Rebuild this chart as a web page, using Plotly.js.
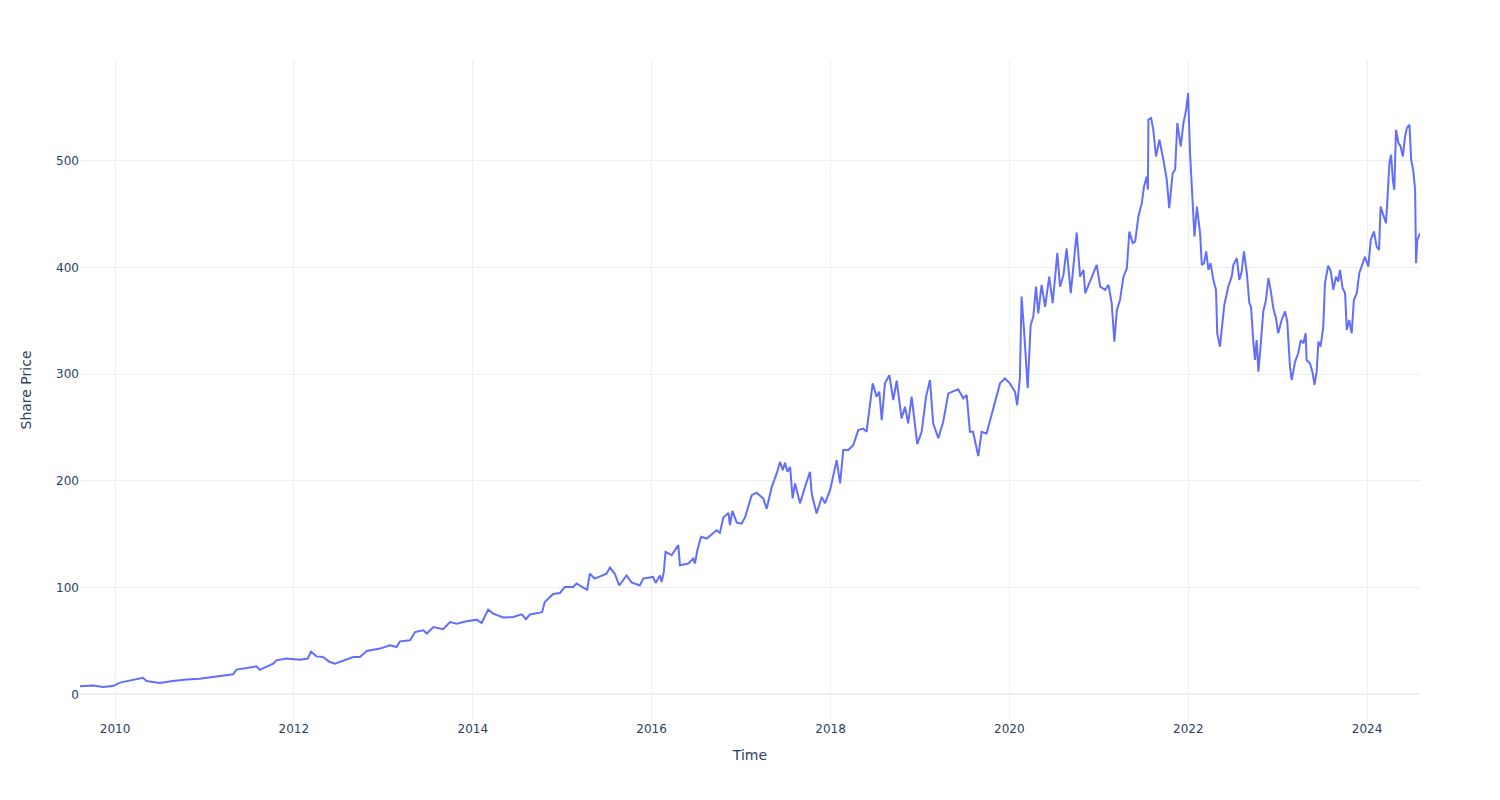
<!DOCTYPE html>
<html>
<head>
<meta charset="utf-8">
<script src="https://cdn.plot.ly/plotly-3.0.1.min.js"></script>
<style>html,body{margin:0;padding:0;background:#fff;}</style>
</head>
<body>
<div id="chart" style="width:1500px;height:800px;"></div>
<script>
// Time as decimal years
const timeYears = [
2009.609,2009.757,2009.866,2009.978,2010.056,2010.168,2010.313,2010.354,2010.503,2010.649,
2010.802,2010.950,2011.096,2011.249,2011.323,2011.361,2011.473,2011.585,2011.621,2011.733,
2011.770,2011.808,2011.920,2012.069,2012.158,2012.192,2012.255,2012.326,2012.404,2012.460,
2012.553,2012.665,2012.740,2012.815,2012.963,2013.075,2013.150,2013.187,2013.299,2013.355,
2013.447,2013.485,2013.559,2013.671,2013.746,2013.821,2013.933,2014.045,2014.100,2014.174,
2014.230,2014.342,2014.454,2014.548,2014.596,2014.641,2014.752,2014.778,2014.808,2014.901,
2014.976,2015.032,2015.125,2015.163,2015.237,2015.281,2015.311,2015.367,2015.498,2015.535,
2015.591,2015.639,2015.722,2015.778,2015.871,2015.907,2016.019,2016.049,2016.094,2016.113,
2016.139,2016.158,2016.225,2016.299,2016.318,2016.411,2016.467,2016.486,2016.511,2016.553,
2016.616,2016.690,2016.728,2016.765,2016.802,2016.858,2016.877,2016.903,2016.952,2017.008,
2017.045,2017.120,2017.175,2017.249,2017.287,2017.343,2017.399,2017.436,2017.466,2017.492,
2017.518,2017.548,2017.578,2017.604,2017.660,2017.716,2017.771,2017.790,2017.846,2017.902,
2017.939,2017.995,2018.032,2018.070,2018.107,2018.144,2018.200,2018.256,2018.312,2018.367,
2018.405,2018.442,2018.473,2018.517,2018.546,2018.573,2018.610,2018.658,2018.703,2018.741,
2018.797,2018.834,2018.871,2018.909,2018.971,2019.020,2019.069,2019.113,2019.150,2019.206,
2019.262,2019.318,2019.374,2019.430,2019.486,2019.524,2019.561,2019.597,2019.653,2019.691,
2019.747,2019.784,2019.840,2019.896,2019.952,2020.008,2020.064,2020.089,2020.120,2020.139,
2020.164,2020.206,2020.239,2020.268,2020.298,2020.324,2020.362,2020.399,2020.447,2020.485,
2020.537,2020.567,2020.604,2020.642,2020.687,2020.724,2020.754,2020.791,2020.828,2020.847,
2020.902,2020.977,2021.014,2021.070,2021.107,2021.145,2021.174,2021.201,2021.238,2021.275,
2021.313,2021.342,2021.380,2021.406,2021.442,2021.480,2021.506,2021.536,2021.548,2021.554,
2021.585,2021.610,2021.640,2021.677,2021.722,2021.760,2021.789,2021.827,2021.853,2021.879,
2021.917,2021.946,2021.976,2021.998,2022.021,2022.051,2022.069,2022.096,2022.132,2022.151,
2022.177,2022.200,2022.225,2022.252,2022.281,2022.311,2022.326,2022.356,2022.375,2022.404,
2022.449,2022.487,2022.505,2022.543,2022.572,2022.599,2022.624,2022.655,2022.684,2022.703,
2022.728,2022.747,2022.766,2022.784,2022.811,2022.840,2022.870,2022.896,2022.923,2022.952,
2022.982,2023.008,2023.046,2023.083,2023.109,2023.139,2023.158,2023.195,2023.232,2023.258,
2023.288,2023.314,2023.326,2023.362,2023.393,2023.411,2023.437,2023.455,2023.482,2023.511,
2023.530,2023.567,2023.597,2023.623,2023.653,2023.679,2023.698,2023.728,2023.754,2023.773,
2023.802,2023.829,2023.854,2023.885,2023.914,2023.958,2023.977,2024.014,2024.041,2024.078,
2024.108,2024.134,2024.153,2024.182,2024.212,2024.227,2024.249,2024.268,2024.287,2024.305,
2024.324,2024.350,2024.377,2024.399,2024.425,2024.444,2024.473,2024.492,2024.518,2024.537,
2024.548,2024.562,2024.592
];

const sharePrice = [
7.5,8.4,6.9,7.8,11,13,15.6,12.5,10.6,12.5,
14,14.7,16.3,17.8,18.8,23.2,25,26.3,23,27.2,
28.8,31.9,33.5,32.5,33.5,40,35.6,35,30.3,28.8,
31.9,35,35,40.6,42.9,46,44.4,49.7,50.7,58.4,
60,57,63.1,61,67.8,66.3,68.5,70,66.9,79.5,
75.7,72,72.5,75,70.4,74.8,76.6,77.2,86.6,94,
95,100.7,100.7,103.9,100,98,113,108.5,113,118.8,
113,102,111.5,105,102,108.5,110,104.4,111.5,105.2,
114.7,133.5,130.4,139.8,121,122.6,127.3,122.6,135,147.6,
146,150.7,153.8,151.3,165.8,170,158.5,172,161,160,
166,186.7,189,183.6,174,194.5,207,218,210,217,
208.6,213,183.6,197.6,179,194.5,208.6,188,169.5,185,
179,191.4,203.8,219.5,197.7,229,229,233.6,247.6,249,
246,272.7,291.4,279,283.6,257,291.4,299,275.8,294,
258.6,269.5,254,279,234.5,246,279,294.5,254,240,
255.5,282,283.6,285.8,277.4,280.5,246,246,223.3,246,
244.5,257,274,291.4,296,291.4,283.6,271,296,372.7,
341.5,286.8,346,354,382,357,383.7,363,391.4,366.5,
413.5,382,393,418,376,410,432.7,391.4,397.7,376,
388,402.4,382,379,383.7,366.5,330.5,360,369.6,391.4,
399.3,433.7,422.8,424.4,447.8,460.3,476,485.3,473,538.5,
540,529,504,519.7,501,482,455.6,488.5,491.6,535.3,
513.4,535.3,547.8,563.5,507.2,454,429,457,432,402.4,
404,415,397.7,404,388.4,379,338.3,325.8,340,365,
382,391.4,402.4,408.7,388.4,396.2,415,394.6,366.5,363.3,
332,313.3,332,302.4,329,358.8,369.6,390,379,361.8,
352.4,338.3,350.8,358.8,349.2,307,294.5,311.8,319.6,332,
329,338.3,313.3,310,300.8,290,302.4,330.5,325.8,344.6,
385.3,401.8,396.2,379,391.4,386.8,397.7,380.6,376,341.5,
350.8,338.3,369.6,376,394.6,404,410,400.8,425.9,433.7,
419.6,416.5,457,449.3,441.5,463.4,497.8,505.6,482,472.8,
529,516.6,513.4,504,522.8,530.6,533.8,501,490,472.8,
404,425.9,432
];

function yearToDate(y) {
  const yr = Math.floor(y);
  const start = Date.UTC(yr, 0, 1);
  const end = Date.UTC(yr + 1, 0, 1);
  const t = start + (y - yr) * (end - start);
  return new Date(t).toISOString().slice(0, 10);
}
const dates = timeYears.map(yearToDate);

const trace = {
  x: dates,
  y: sharePrice,
  type: 'scatter',
  mode: 'lines',
  line: {color: '#636efa', width: 2},
  hoverinfo: 'x+y'
};

const layout = {
  width: 1500,
  height: 800,
  margin: {l: 80, r: 80, t: 60, b: 80},
  paper_bgcolor: '#ffffff',
  plot_bgcolor: '#ffffff',
  font: {family: '"DejaVu Sans", verdana, arial, sans-serif', size: 12, color: '#2a3f5f'},
  showlegend: false,
  xaxis: {
    title: {text: 'Time', font: {size: 14}, standoff: 15},
    type: 'date',
    gridcolor: '#EBF0F8',
    zerolinecolor: '#EBF0F8',
    showline: false,
    ticks: '',
    automargin: true
  },
  yaxis: {
    title: {text: 'Share Price', font: {size: 14}, standoff: 21},
    gridcolor: '#EBF0F8',
    zerolinecolor: '#EBF0F8',
    zerolinewidth: 2,
    showline: false,
    ticks: '',
    automargin: true
  }
};

Plotly.newPlot('chart', [trace], layout, {displayModeBar: false, responsive: false});
</script>
</body>
</html>
